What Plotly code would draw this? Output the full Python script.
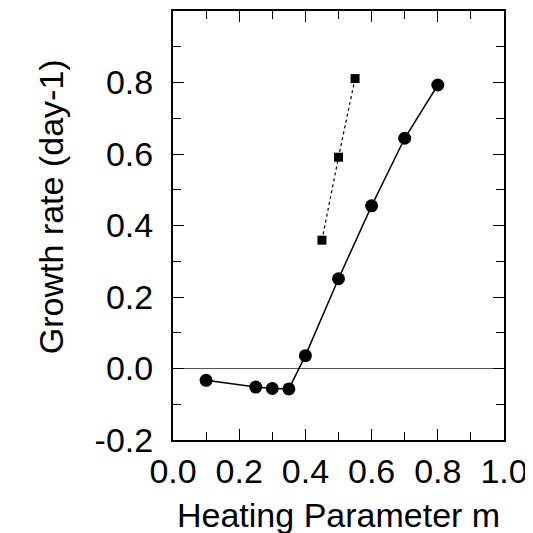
import plotly.graph_objects as go

# Growth rate vs heating parameter
m_circles = [0.10, 0.25, 0.30, 0.35, 0.40, 0.50, 0.60, 0.70, 0.80]
rate_circles = [-0.033, -0.052, -0.056, -0.057, 0.036, 0.251, 0.455, 0.644, 0.793]

m_squares = [0.45, 0.50, 0.55]
rate_squares = [0.359, 0.591, 0.811]

y_ticks = [-0.2, 0.0, 0.2, 0.4, 0.6, 0.8]
y_ticklabels = ["-0.2", "0.0", "0.2", "0.4", "0.6", "0.8"]
x_ticks = [0.0, 0.2, 0.4, 0.6, 0.8, 1.0]
x_ticklabels = ["0.0", "0.2", "0.4", "0.6", "0.8", "1.0"]

FONT = "Liberation Sans, Arial, Helvetica, sans-serif"
FS = 34

fig = go.Figure()

fig.add_trace(go.Scatter(
    x=m_circles, y=rate_circles,
    mode="lines+markers",
    line=dict(color="black", width=1.5),
    marker=dict(symbol="circle", size=13, color="black"),
    showlegend=False,
))

fig.add_trace(go.Scatter(
    x=m_squares, y=rate_squares,
    mode="lines+markers",
    line=dict(color="black", width=1.2, dash="3px,3px"),
    marker=dict(symbol="square", size=9, color="black"),
    showlegend=False,
))

axis_common = dict(
    showline=True, linecolor="black", linewidth=2, mirror="ticks",
    ticks="inside", ticklen=11, tickwidth=1.2, tickcolor="black",
    showgrid=False,
    tickfont=dict(family=FONT, size=FS, color="black"),
    minor=dict(ticks="inside", ticklen=8, tickwidth=1.2, tickcolor="black", dtick=0.1, showgrid=False),
)

fig.update_xaxes(
    range=[0, 1], tickvals=x_ticks, ticktext=x_ticklabels,
    zeroline=False, **axis_common,
)
fig.update_yaxes(
    range=[-0.2, 1.0], tickvals=y_ticks, ticktext=y_ticklabels,
    zeroline=True, zerolinecolor="#555555", zerolinewidth=1,
    ticklabelstandoff=11,
    **axis_common,
)

fig.add_annotation(
    text="Heating Parameter m", xref="paper", yref="paper",
    x=0.5, y=-0.175, xanchor="center", yanchor="middle", showarrow=False,
    font=dict(family=FONT, size=FS, color="black"),
)
fig.add_annotation(
    text="Growth rate (day-1)", xref="paper", yref="paper",
    x=-0.37, y=0.544, xanchor="center", yanchor="middle", showarrow=False,
    textangle=-90,
    font=dict(family=FONT, size=FS, color="black"),
)

fig.update_layout(
    width=533, height=533,
    margin=dict(l=165, r=37, t=1, b=101),
    plot_bgcolor="white", paper_bgcolor="white",
)

fig.write_html("out.html")
